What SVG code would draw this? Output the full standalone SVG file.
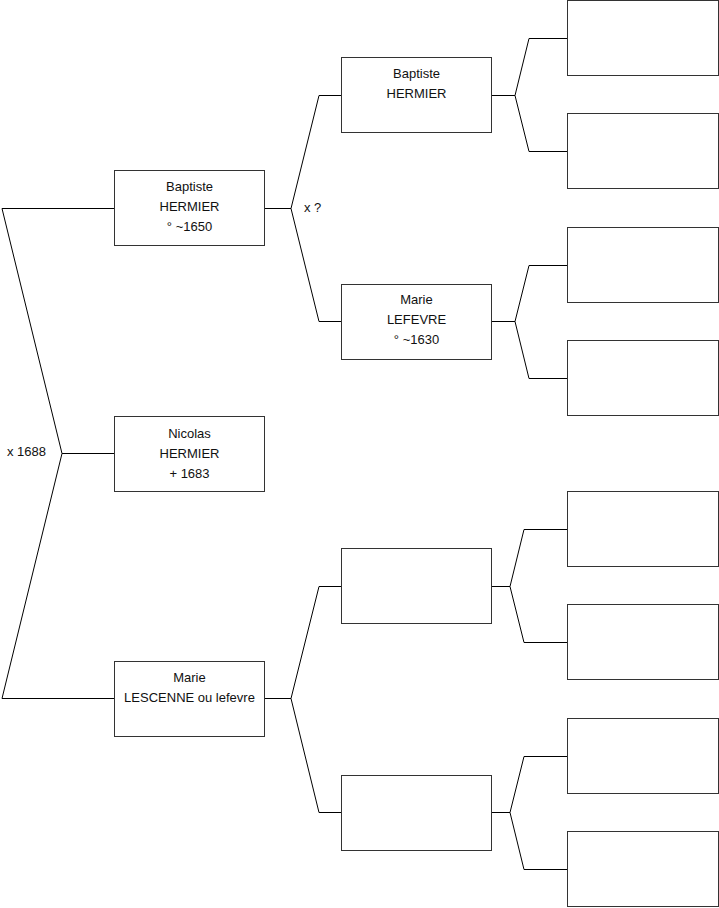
<svg xmlns="http://www.w3.org/2000/svg" width="719" height="908" viewBox="0 0 719 908">
<style>
.box{fill:#fff;stroke:#333;stroke-width:1}
.ln{fill:none;stroke:#000;stroke-width:1}
text{font-family:"Liberation Sans",Arial,sans-serif;font-size:13px;fill:#111}
.c{text-anchor:middle}
</style>
<rect width="719" height="908" fill="#fff"/>
<g id="connectors">
<polyline class="ln" points="114,208.5 2,208.5 62,453.5 2,698.5 114,698.5"/>
<line class="ln" x1="62" y1="453.5" x2="114" y2="453.5"/>
<polyline class="ln" points="341,95.5 319,95.5 291,208.5 319,321.5 341,321.5"/>
<line class="ln" x1="265" y1="208.5" x2="291" y2="208.5"/>
<polyline class="ln" points="341,586.5 319,586.5 291,698.5 319,812.5 341,812.5"/>
<line class="ln" x1="265" y1="698.5" x2="291" y2="698.5"/>
<polyline class="ln" points="567,38.5 529,38.5 515,95.5 529,151.5 567,151.5"/>
<line class="ln" x1="492" y1="95.5" x2="515" y2="95.5"/>
<polyline class="ln" points="567,265.5 529,265.5 515,321.5 529,378.5 567,378.5"/>
<line class="ln" x1="492" y1="321.5" x2="515" y2="321.5"/>
<polyline class="ln" points="567,529.5 524,529.5 510,586.5 524,642.5 567,642.5"/>
<line class="ln" x1="492" y1="586.5" x2="510" y2="586.5"/>
<polyline class="ln" points="567,756.5 524,756.5 510,812.5 524,869.5 567,869.5"/>
<line class="ln" x1="492" y1="812.5" x2="510" y2="812.5"/>
<text x="7" y="456">x 1688</text>
<text x="304" y="212">x ?</text>
</g>
<g id="n-baptiste1">
<rect class="box" x="114.5" y="170.5" width="150" height="75"/>
<text class="c" x="189.5" y="191">Baptiste</text>
<text class="c" x="189.5" y="211">HERMIER</text>
<text class="c" x="189.5" y="231">° ~1650</text>
</g>
<g id="n-nicolas">
<rect class="box" x="114.5" y="416.5" width="150" height="75"/>
<text class="c" x="189.5" y="438">Nicolas</text>
<text class="c" x="189.5" y="458">HERMIER</text>
<text class="c" x="189.5" y="478"> + 1683</text>
</g>
<g id="n-marie1">
<rect class="box" x="114.5" y="661.5" width="150" height="75"/>
<text class="c" x="189.5" y="682">Marie</text>
<text class="c" x="189.5" y="702">LESCENNE ou lefevre</text>
</g>
<g id="n-baptiste2">
<rect class="box" x="341.5" y="57.5" width="150" height="75"/>
<text class="c" x="416.5" y="78">Baptiste</text>
<text class="c" x="416.5" y="98">HERMIER</text>
</g>
<g id="n-marie2">
<rect class="box" x="341.5" y="284.5" width="150" height="75"/>
<text class="c" x="416.5" y="304">Marie</text>
<text class="c" x="416.5" y="324">LEFEVRE</text>
<text class="c" x="416.5" y="344">° ~1630</text>
</g>
<g id="n-g2c"><rect class="box" x="341.5" y="548.5" width="150" height="75"/></g>
<g id="n-g2d"><rect class="box" x="341.5" y="775.5" width="150" height="75"/></g>
<g id="n-g3a"><rect class="box" x="567.5" y="0.5" width="151" height="75"/></g>
<g id="n-g3b"><rect class="box" x="567.5" y="113.5" width="151" height="75"/></g>
<g id="n-g3c"><rect class="box" x="567.5" y="227.5" width="151" height="75"/></g>
<g id="n-g3d"><rect class="box" x="567.5" y="340.5" width="151" height="75"/></g>
<g id="n-g3e"><rect class="box" x="567.5" y="491.5" width="151" height="75"/></g>
<g id="n-g3f"><rect class="box" x="567.5" y="604.5" width="151" height="75"/></g>
<g id="n-g3g"><rect class="box" x="567.5" y="718.5" width="151" height="75"/></g>
<g id="n-g3h"><rect class="box" x="567.5" y="831.5" width="151" height="75"/></g>
</svg>
